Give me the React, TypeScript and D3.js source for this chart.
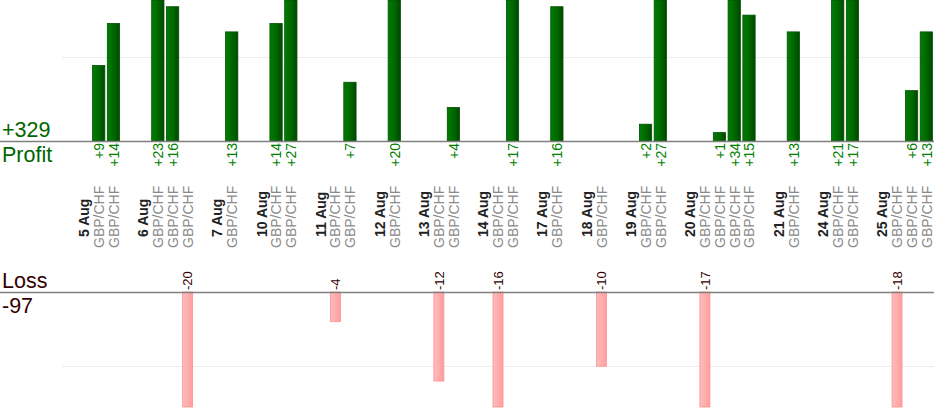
import { useEffect, useRef } from 'react';
import * as d3 from 'd3';

// Trading days and the trades on each day, in chart order
const days = ['5 Aug', '6 Aug', '7 Aug', '10 Aug', '11 Aug', '12 Aug', '13 Aug', '14 Aug',
  '17 Aug', '18 Aug', '19 Aug', '20 Aug', '21 Aug', '24 Aug', '25 Aug'];
const tradeDay = [0, 0, 1, 1, 1, 2, 3, 3, 4, 4, 5, 6, 6, 7, 7, 8, 9, 10, 10,
  11, 11, 11, 11, 12, 13, 13, 14, 14, 14];
const tradeResult = [9, 14, 23, 16, -20, 13, 14, 27, -4, 7, 20, -12, 4, -16, 17, 16, -10, 2, 27,
  -17, 1, 34, 15, 13, 21, 17, -18, 6, 13];
const tradeSymbol = 'GBP/CHF';
const gridValues = [10];

const W = 934;
const H = 420;

type Slot = { kind: 'blank' | 'day' | 'trade'; label?: string; value?: number };

export default function App() {
  const svgRef = useRef<SVGSVGElement>(null);

  useEffect(() => {
    if (!svgRef.current) return;
    d3.select(svgRef.current).selectAll('*').remove();

    // each day: an empty slot, the day label, then one slot per trade
    const slots: Slot[] = [];
    days.forEach((day, i) => {
      slots.push({ kind: 'blank' });
      slots.push({ kind: 'day', label: day });
      tradeResult.forEach((v, j) => {
        if (tradeDay[j] === i) slots.push({ kind: 'trade', value: v });
      });
    });

    const profitBase = 141;
    const lossBase = 292;
    const plotLeft = 62;

    const x = d3.scaleBand<number>()
      .domain(d3.range(slots.length))
      .range([plotLeft, W]);

    const yProfit = d3.scaleLinear().domain([0, 16.8]).range([profitBase, 0]).clamp(true);
    const yLoss = d3.scaleLinear().domain([0, 15.5]).range([lossBase, 407]).clamp(true);

    const svg = d3.select(svgRef.current)
      .attr('width', W)
      .attr('height', H)
      .style('font-family', 'Arial, "Liberation Sans", sans-serif');

    const defs = svg.append('defs');
    const gGreen = defs.append('linearGradient').attr('id', 'gGreen');
    gGreen.append('stop').attr('offset', '0%').attr('stop-color', '#007e00');
    gGreen.append('stop').attr('offset', '55%').attr('stop-color', '#006600');
    gGreen.append('stop').attr('offset', '100%').attr('stop-color', '#004800');
    const gRed = defs.append('linearGradient').attr('id', 'gRed');
    gRed.append('stop').attr('offset', '0%').attr('stop-color', '#ffbdbd');
    gRed.append('stop').attr('offset', '100%').attr('stop-color', '#ff9e9e');

    // gridlines
    svg.selectAll('.gp').data(gridValues).enter().append('line')
      .attr('x1', plotLeft).attr('x2', W)
      .attr('y1', d => Math.round(yProfit(d)) + 0.5).attr('y2', d => Math.round(yProfit(d)) + 0.5)
      .attr('stroke', '#ececec');
    svg.selectAll('.gl').data(gridValues).enter().append('line')
      .attr('x1', plotLeft).attr('x2', W)
      .attr('y1', d => Math.round(yLoss(d)) + 0.5).attr('y2', d => Math.round(yLoss(d)) + 0.5)
      .attr('stroke', '#ececec');

    const trades = slots.map((s, i) => ({ ...s, i })).filter(s => s.kind === 'trade');
    const wins = trades.filter(t => (t.value as number) > 0);
    const losses = trades.filter(t => (t.value as number) < 0);

    // profit bars
    svg.selectAll('.win').data(wins).enter().append('rect')
      .attr('x', d => (x(d.i) as number) + 1)
      .attr('width', x.bandwidth() - 2.5)
      .attr('y', d => yProfit(d.value as number))
      .attr('height', d => profitBase - yProfit(d.value as number))
      .attr('fill', 'url(#gGreen)')
      .attr('stroke', '#005000')
      .attr('stroke-width', 0.8);

    // loss bars
    svg.selectAll('.loss').data(losses).enter().append('rect')
      .attr('x', d => (x(d.i) as number) + x.bandwidth() / 2 - 5)
      .attr('width', 10)
      .attr('y', lossBase)
      .attr('height', d => yLoss(-(d.value as number)) - lossBase)
      .attr('fill', 'url(#gRed)')
      .attr('stroke', '#ff9090')
      .attr('stroke-width', 0.8);

    // axes
    svg.append('line').attr('x1', 0).attr('x2', W)
      .attr('y1', profitBase + 0.5).attr('y2', profitBase + 0.5)
      .attr('stroke', '#808080').attr('stroke-width', 1.5);
    svg.append('line').attr('x1', 0).attr('x2', W)
      .attr('y1', lossBase + 0.5).attr('y2', lossBase + 0.5)
      .attr('stroke', '#808080').attr('stroke-width', 1.5);

    const cx = (i: number) => (x(i) as number) + x.bandwidth() / 2;

    // value labels
    svg.selectAll('.wl').data(wins).enter().append('text')
      .attr('transform', d => `translate(${cx(d.i)},${profitBase + 2}) rotate(-90)`)
      .attr('dy', '0.36em')
      .attr('text-anchor', 'end')
      .style('font-size', '14px')
      .style('fill', '#008000')
      .text(d => `+${d.value}`);

    svg.selectAll('.ll').data(losses).enter().append('text')
      .attr('transform', d => `translate(${cx(d.i)},${lossBase - 2}) rotate(-90)`)
      .attr('dy', '0.36em')
      .attr('text-anchor', 'start')
      .style('font-size', '13px')
      .style('fill', '#330000')
      .text(d => `${d.value}`);

    // category labels
    const labelled = slots.map((s, i) => ({ ...s, i })).filter(s => s.kind !== 'blank');
    svg.selectAll('.cat').data(labelled).enter().append('text')
      .attr('transform', d => `translate(${cx(d.i)},${d.kind === 'day' ? 237 : 248}) rotate(-90)`)
      .attr('dy', '0.36em')
      .attr('text-anchor', 'start')
      .style('font-size', '14px')
      .style('font-weight', d => (d.kind === 'day' ? 'bold' : 'normal'))
      .style('fill', d => (d.kind === 'day' ? '#222' : '#8a8a8a'))
      .text(d => (d.kind === 'day' ? (d.label as string) : tradeSymbol));

    // totals
    const totalProfit = d3.sum(wins, d => d.value as number);
    const totalLoss = d3.sum(losses, d => d.value as number);

    svg.append('text').attr('x', 2).attr('y', 137)
      .style('font-size', '21.5px').style('fill', '#006600')
      .text(`+${totalProfit}`);
    svg.append('text').attr('x', 2).attr('y', 162)
      .style('font-size', '21.5px').style('fill', '#006600')
      .text('Profit');
    svg.append('text').attr('x', 2).attr('y', 288)
      .style('font-size', '21.5px').style('fill', '#330000')
      .text('Loss');
    svg.append('text').attr('x', 2).attr('y', 313)
      .style('font-size', '21.5px').style('fill', '#330000')
      .text(`${totalLoss}`);
  }, []);

  return (
    <div style={{ position: 'absolute', left: 0, top: 0 }}>
      <svg ref={svgRef} style={{ display: 'block' }} />
    </div>
  );
}
